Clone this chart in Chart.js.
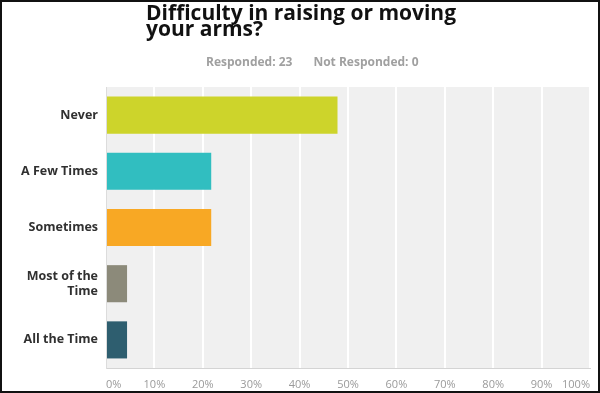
<!DOCTYPE html>
<html>
<head>
<meta charset="utf-8">
<script src="https://cdn.jsdelivr.net/npm/chart.js@4/dist/chart.umd.min.js"></script>
<style>
    body { margin: 0; background: #fff; }
    #wrap { position: relative; width: 600px; height: 393px; }
    #frame { position: absolute; left: 0; top: 0; width: 600px; height: 393px;
             box-sizing: border-box; border: 2px solid #111; pointer-events: none; }
    #title { position: absolute; left: 146px; top: 4px; margin: 0; white-space: nowrap;
             font: bold 21px/16px "Open Sans", sans-serif; color: #111; }
    #counts { position: absolute; left: 206px; top: 53px; white-space: nowrap;
              font: bold 12px "Open Sans", sans-serif; color: #a0a0a0; }
    #counts span + span { margin-left: 21px; }
</style>
</head>
<body>
<div id="wrap">
    <canvas id="chart" width="600" height="393"></canvas>
    <div id="title">Difficulty in raising or moving<br>your arms?</div>
    <div id="counts"><span>Responded: 23</span><span>Not Responded: 0</span></div>
    <div id="frame"></div>
</div>
<script>
var categories = ["Never", "A Few Times", "Sometimes", ["Most of the", "Time"], "All the Time"];
var percents = [47.83, 21.74, 21.74, 4.35, 4.35];
var barColors = ["#cdd42b", "#31bec0", "#f8a824", "#8c8a7a", "#2e5e6f"];
var tickValues = [0, 10, 20, 30, 40, 50, 60, 70, 80, 90, 100];

// grey panel behind the bars
var plotBackground = {
    id: 'plotBackground',
    beforeDraw: function(chart) {
        var a = chart.chartArea;
        var ctx = chart.ctx;
        ctx.save();
        ctx.fillStyle = "#f0f0f0";
        ctx.fillRect(a.left, a.top, a.right - a.left, a.bottom - a.top);
        ctx.restore();
    }
};

var config = {
    type: 'bar',
    data: {
        labels: categories,
        datasets: [
            {
                data: percents,
                backgroundColor: barColors,
                borderWidth: 0,
                barPercentage: 0.66,
                categoryPercentage: 1.0
            }
        ]
    },
    options: {
        indexAxis: 'y',
        responsive: false,
        animation: false,
        layout: {
            padding: { top: 87, right: 4, bottom: 0, left: 0 }
        },
        plugins: {
            legend: { display: false },
            tooltip: { enabled: false }
        },
        scales: {
            x: {
                min: 0,
                max: 100,
                afterBuildTicks: function(scale) {
                    scale.ticks = tickValues.map(function(v) { return { value: v }; });
                },
                afterFit: function(scale) { scale.height = 25; },
                grid: { color: "#ffffff", lineWidth: 2, drawTicks: false },
                border: { display: true, color: "#d4d4d4", width: 1 },
                ticks: {
                    align: 'inner',
                    padding: 10,
                    color: "#9a9a9a",
                    font: { family: "Open Sans", size: 11 },
                    callback: function(v) { return v + "%"; }
                }
            },
            y: {
                afterFit: function(scale) { scale.width = 106; },
                grid: { display: false, drawTicks: false },
                border: { display: true, color: "#dcdcdc", width: 1 },
                ticks: {
                    padding: 8,
                    color: "#303030",
                    font: { family: "Open Sans", size: 12.5, weight: 'bold', lineHeight: 1.2 }
                }
            }
        }
    },
    plugins: [plotBackground]
};

var ctx = document.getElementById("chart").getContext("2d");
var surveyChart = new Chart(ctx, config);
</script>
</body>
</html>
